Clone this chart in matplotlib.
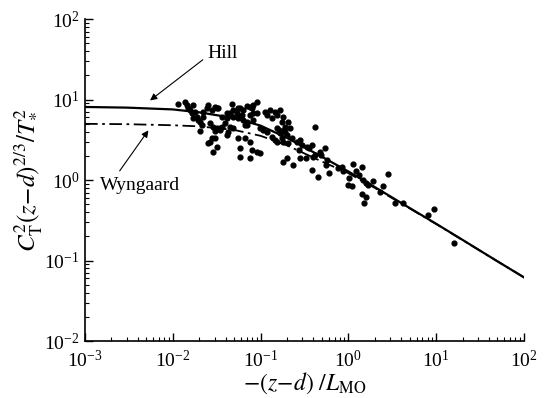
import numpy as np
import matplotlib
matplotlib.use('Agg')
import matplotlib.pyplot as plt

plt.rcParams['font.family'] = 'serif'
plt.rcParams['font.serif'] = ['Liberation Serif', 'DejaVu Serif']
plt.rcParams['mathtext.fontset'] = 'stix'

# Hill curve
hill_x = [0.001, 0.003, 0.01, 0.02, 0.05, 0.1, 0.2, 0.5, 1, 2, 5, 10, 20, 50, 100]
hill_y = [8.1, 7.95, 7.55, 6.95, 5.9, 4.75, 3.35, 1.95, 1.28, 0.82, 0.45, 0.287, 0.181, 0.098, 0.062]

# Wyngaard curve
wyn_x = [0.001, 0.003, 0.01, 0.02, 0.05, 0.1, 0.2, 0.5, 1, 2, 5, 10, 20, 50, 100]
wyn_y = [5.0, 4.95, 4.8, 4.65, 4.2, 3.55, 2.7, 1.7, 1.22, 0.80, 0.445, 0.285, 0.18, 0.098, 0.062]

# measured points
obs_x = [0.0116, 0.0138, 0.0144, 0.0171, 0.0150, 0.0157, 0.0164, 0.0179, 0.0187, 0.0171,
         0.0195, 0.0204, 0.0213, 0.0204, 0.0222, 0.0243, 0.0254, 0.0277, 0.0303, 0.0330,
         0.0222, 0.0265, 0.0289, 0.0316, 0.0303, 0.0345, 0.0361, 0.0394, 0.0277, 0.0303,
         0.0254, 0.0316, 0.0289, 0.0469, 0.0448, 0.0489, 0.0411, 0.0535, 0.0582, 0.0557,
         0.0610, 0.0635, 0.0664, 0.0695, 0.0757, 0.0792, 0.0826, 0.0903, 0.0903, 0.0448,
         0.0489, 0.0429, 0.0557, 0.0664, 0.0582, 0.0757, 0.0792, 0.0757, 0.0903, 0.0411,
         0.128, 0.146, 0.166, 0.117, 0.134, 0.152, 0.181, 0.174, 0.207, 0.190,
         0.216, 0.107, 0.134, 0.146, 0.166, 0.174, 0.198, 0.226, 0.258, 0.281,
         0.294, 0.335, 0.382, 0.417, 0.475, 0.541, 0.417, 0.281, 0.198, 0.181,
         0.236, 0.382, 0.566, 0.0984, 0.163, 0.186, 0.178, 0.204, 0.359, 0.276,
         0.488, 0.392, 0.329, 0.556, 0.606, 0.447, 0.755, 0.861, 1.12, 1.43,
         1.22, 1.31, 1.02, 1.59, 1.89, 0.982, 1.10, 2.50, 2.80, 1.43,
         1.59, 0.839, 1.48, 1.69, 1.51, 2.29, 3.40, 4.22, 8.0, 9.5,
         15.8, 0.0582, 0.0361, 0.0411, 0.0695, 0.112, 0.0826, 0.0316, 0.0557, 0.0635,
         0.0489, 0.0757, 0.0826, 0.0448, 0.0582, 0.0695, 0.0345, 0.0265, 0.0984, 0.117,
         0.152, 0.190, 0.152]
obs_y = [8.71, 9.4, 8.55, 8.55, 7.78, 7.41, 6.74, 7.05, 6.11, 5.84,
         5.56, 5.30, 4.82, 4.06, 7.05, 7.78, 8.55, 7.41, 8.14, 7.78,
         6.11, 5.06, 4.59, 4.39, 4.06, 4.18, 4.59, 5.06, 3.30, 3.30,
         2.86, 2.59, 2.21, 8.71, 6.42, 6.11, 5.84, 6.74, 7.78, 5.84,
         6.42, 5.56, 4.82, 5.30, 6.42, 7.78, 5.56, 9.4, 6.74, 4.59,
         4.39, 3.98, 3.30, 3.30, 2.48, 2.99, 2.36, 1.86, 2.25, 3.62,
         7.41, 7.05, 7.41, 6.42, 5.84, 6.42, 6.11, 5.30, 5.30, 4.59,
         4.39, 4.18, 3.45, 3.14, 3.80, 3.30, 3.62, 3.30, 2.99, 3.14,
         2.72, 2.59, 2.72, 4.59, 2.25, 2.48, 2.05, 1.86, 1.86, 1.69,
         1.53, 1.33, 1.77, 2.15, 4.18, 4.18, 2.99, 2.86, 2.48, 2.36,
         2.05, 1.95, 1.86, 1.53, 1.21, 1.10, 1.40, 1.31, 1.58, 1.44,
         1.31, 1.15, 1.05, 0.91, 0.97, 0.867, 0.841, 0.849, 1.19, 0.664,
         0.610, 1.46, 1.0, 0.867, 0.523, 0.716, 0.523, 0.523, 0.367, 0.433,
         0.164, 1.95, 6.11, 6.74, 8.3, 7.05, 6.74, 7.78, 7.78, 7.41,
         7.41, 8.14, 8.55, 6.74, 6.11, 4.82, 4.39, 2.99, 4.39, 3.98,
         4.39, 3.98, 2.99]

fig = plt.figure(figsize=(5.52, 3.98), dpi=100)
ax = fig.add_axes([0.154, 0.143, 0.795, 0.809])

ax.plot(hill_x, hill_y, color='black', lw=1.6)
ax.plot(wyn_x, wyn_y, color='black', lw=1.3, linestyle=(0, (7, 2.5, 1.5, 2.5)))
ax.scatter(obs_x, obs_y, s=12, color='black', zorder=3)

ax.set_xscale('log')
ax.set_yscale('log')
ax.set_xlim(1e-3, 1e2)
ax.set_ylim(1e-2, 1e2)

ax.spines['top'].set_visible(False)
ax.spines['right'].set_visible(False)
for s in ['left', 'bottom']:
    ax.spines[s].set_linewidth(1.2)
ax.tick_params(which='major', direction='in', length=6, width=1.0, labelsize=14)
ax.tick_params(which='minor', direction='in', length=3, width=0.8)
ax.tick_params(axis='x', pad=6)
ax.tick_params(axis='y', pad=4)

ax.set_xlabel(r'$-(z\!-\!d)\ /L_{\mathrm{MO}}$', fontsize=17, labelpad=0)
ax.set_ylabel(r'$C_{\mathrm{T}}^{2}(z\!-\!d)^{2/3}/T_{*}^{2}$', fontsize=18, labelpad=0)

# annotations
ax.annotate('', xy=(0.0052, 9.3), xytext=(0.0233, 32.8),
            arrowprops=dict(arrowstyle='-|>', color='black', lw=0.8, mutation_scale=10))
ax.text(0.0245, 37.2, 'Hill', fontsize=14, ha='left', va='center')
ax.annotate('', xy=(0.0055, 4.43), xytext=(0.00238, 1.22),
            arrowprops=dict(arrowstyle='-|>', color='black', lw=0.8, mutation_scale=10))
ax.text(0.00148, 0.867, 'Wyngaard', fontsize=14, ha='left', va='center')

fig.savefig('out.png', dpi=100)
